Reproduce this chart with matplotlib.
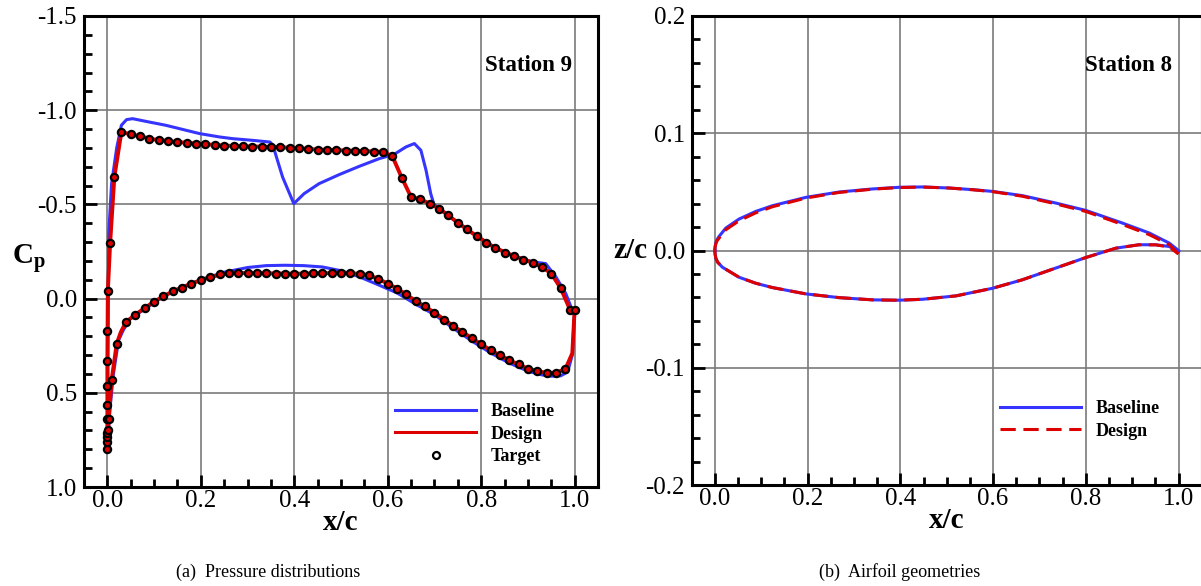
import matplotlib
matplotlib.use("Agg")
import matplotlib.pyplot as plt
from matplotlib.lines import Line2D
from matplotlib.ticker import MultipleLocator, FormatStrFormatter

plt.rcParams['font.family'] = ['Liberation Serif', 'DejaVu Serif']
plt.rcParams['axes.unicode_minus'] = False
plt.rcParams['mathtext.fontset'] = 'custom'
plt.rcParams['mathtext.rm'] = 'Liberation Serif'
plt.rcParams['mathtext.bf'] = 'Liberation Serif:bold'

BLUE = '#3535ff'
RED = '#dd0000'

# ---- station 9 pressure distributions ----
base_up_x = [0.000, 0.002, 0.003, 0.009, 0.020, 0.030, 0.041, 0.054, 0.090, 0.125, 0.197, 0.240,
             0.268, 0.311, 0.348, 0.354, 0.375, 0.399, 0.421, 0.453, 0.496, 0.539, 0.582, 0.614,
             0.639, 0.657, 0.671, 0.682, 0.692, 0.699, 0.710, 0.750, 0.790, 0.830, 0.870, 0.910,
             0.938, 0.960, 0.981, 0.995, 1.000]
base_up_cp = [0.78, 0.00, -0.35, -0.61, -0.80, -0.92, -0.950, -0.955, -0.937, -0.920, -0.876, -0.858,
              -0.849, -0.840, -0.831, -0.815, -0.645, -0.504, -0.557, -0.610, -0.658, -0.702, -0.743, -0.766,
              -0.805, -0.823, -0.787, -0.681, -0.557, -0.500, -0.478, -0.403, -0.332, -0.269, -0.226, -0.195,
              -0.186, -0.115, -0.027, 0.062, 0.060]
base_lo_x = [0.000, 0.005, 0.013, 0.024, 0.034, 0.049, 0.080, 0.120, 0.160, 0.200, 0.250, 0.300,
             0.340, 0.380, 0.420, 0.460, 0.500, 0.540, 0.580, 0.620, 0.660, 0.700, 0.740, 0.780,
             0.820, 0.860, 0.900, 0.930, 0.950, 0.970, 0.985, 0.995, 1.000]
base_lo_cp = [0.78, 0.60, 0.40, 0.221, 0.168, 0.106, 0.055, -0.012, -0.060, -0.100, -0.140, -0.165,
              -0.175, -0.177, -0.175, -0.168, -0.148, -0.115, -0.073, -0.030, 0.030, 0.085, 0.157, 0.225,
              0.288, 0.342, 0.385, 0.405, 0.412, 0.410, 0.390, 0.300, 0.062]

des_up_x = [0.000, 0.000, 0.001, 0.006, 0.015, 0.030, 0.050, 0.100, 0.150, 0.200, 0.250, 0.300,
            0.350, 0.400, 0.450, 0.500, 0.550, 0.590, 0.610, 0.630, 0.650, 0.670, 0.690, 0.710,
            0.750, 0.790, 0.830, 0.870, 0.910, 0.930, 0.950, 0.970, 0.990, 1.000]
des_up_cp = [0.80, 0.333, -0.039, -0.297, -0.646, -0.884, -0.872, -0.845, -0.831, -0.821, -0.812, -0.808,
             -0.805, -0.800, -0.791, -0.787, -0.783, -0.779, -0.755, -0.642, -0.539, -0.527, -0.504, -0.478,
             -0.403, -0.332, -0.269, -0.226, -0.191, -0.168, -0.133, -0.056, 0.058, 0.058]
des_lo_x = [0.000, 0.003, 0.009, 0.020, 0.029, 0.040, 0.060, 0.080, 0.100, 0.140, 0.180, 0.220,
            0.260, 0.300, 0.400, 0.500, 0.540, 0.560, 0.580, 0.600, 0.620, 0.660, 0.700, 0.740,
            0.780, 0.820, 0.860, 0.900, 0.940, 0.960, 0.980, 0.995, 1.000]
des_lo_cp = [0.80, 0.64, 0.434, 0.239, 0.177, 0.124, 0.085, 0.050, 0.016, -0.039, -0.080, -0.115,
             -0.135, -0.136, -0.132, -0.136, -0.132, -0.124, -0.104, -0.080, -0.053, 0.012, 0.074, 0.145,
             0.210, 0.274, 0.327, 0.372, 0.395, 0.393, 0.375, 0.290, 0.058]

tgt_up_x = [0.000, 0.000, 0.000, 0.000, 0.001, -0.001, -0.001, 0.000, 0.000, 0.000, 0.001, 0.006, 0.015,
            0.03, 0.05, 0.07, 0.09, 0.11, 0.13, 0.15, 0.17, 0.19, 0.21, 0.23, 0.25, 0.27, 0.29,
            0.31, 0.33, 0.35, 0.37, 0.39, 0.41, 0.43, 0.45, 0.47, 0.49, 0.51, 0.53, 0.55, 0.57,
            0.59, 0.61, 0.63, 0.65, 0.67, 0.69, 0.71, 0.73, 0.75, 0.77, 0.79, 0.81, 0.83, 0.85,
            0.87, 0.89, 0.91, 0.93, 0.95, 0.97, 0.99, 1.00]
tgt_up_cp = [0.800, 0.760, 0.735, 0.715, 0.700, 0.637, 0.563, 0.464, 0.333, 0.174, -0.039, -0.297, -0.646,
             -0.884, -0.872, -0.861, -0.849, -0.840, -0.836, -0.831, -0.826, -0.823, -0.819, -0.815, -0.812,
             -0.810, -0.808, -0.807, -0.805, -0.805, -0.804, -0.800, -0.797, -0.793, -0.791, -0.790, -0.787,
             -0.786, -0.784, -0.783, -0.780, -0.779, -0.755, -0.642, -0.539, -0.527, -0.504, -0.478, -0.442,
             -0.403, -0.368, -0.332, -0.297, -0.269, -0.244, -0.226, -0.207, -0.191, -0.168, -0.133, -0.056,
             0.058, 0.058]
tgt_lo_x = [0.003, 0.009, 0.02, 0.04, 0.06, 0.08, 0.10, 0.12, 0.14, 0.16, 0.18, 0.20, 0.22, 0.24,
            0.26, 0.28, 0.30, 0.32, 0.34, 0.36, 0.38, 0.40, 0.42, 0.44, 0.46, 0.48, 0.50, 0.52,
            0.54, 0.56, 0.58, 0.60, 0.62, 0.64, 0.66, 0.68, 0.70, 0.72, 0.74, 0.76, 0.78, 0.80,
            0.82, 0.84, 0.86, 0.88, 0.90, 0.92, 0.94, 0.96, 0.98]
tgt_lo_cp = [0.640, 0.434, 0.239, 0.124, 0.085, 0.050, 0.016, -0.013, -0.039, -0.058, -0.080, -0.097,
             -0.115, -0.128, -0.135, -0.137, -0.136, -0.135, -0.134, -0.133, -0.133, -0.132, -0.133,
             -0.134, -0.135, -0.136, -0.136, -0.135, -0.132, -0.124, -0.104, -0.080, -0.053, -0.024,
             0.012, 0.041, 0.074, 0.111, 0.145, 0.175, 0.210, 0.243, 0.274, 0.301, 0.327, 0.349,
             0.372, 0.386, 0.395, 0.393, 0.375]

# ---- station 8 airfoil sections ----
geo_x = [0.000, 0.0005, 0.002, 0.005, 0.009, 0.0235, 0.052, 0.088, 0.124, 0.196, 0.268, 0.340, 0.397,
         0.448, 0.505, 0.556, 0.599, 0.663, 0.735, 0.800, 0.879, 0.937, 0.980, 1.000]
base_zu = [0.0, 0.0032, 0.0063, 0.0095, 0.0120, 0.0191, 0.0268, 0.0333, 0.0382, 0.0453, 0.0499, 0.0525,
           0.0539, 0.0542, 0.0533, 0.0519, 0.0504, 0.0468, 0.0405, 0.0342, 0.0234, 0.0149, 0.0063, 0.0]
des_zu = [0.0, 0.0030, 0.0058, 0.0085, 0.0105, 0.0177, 0.0253, 0.0321, 0.0373, 0.0447, 0.0495, 0.0523,
          0.0537, 0.0541, 0.0533, 0.0518, 0.0502, 0.0463, 0.0398, 0.0333, 0.0222, 0.0135, 0.0050, -0.003]
geo_lo_x = [0.000, 0.0005, 0.002, 0.006, 0.016, 0.052, 0.088, 0.124, 0.196, 0.268, 0.340, 0.397, 0.448,
            0.520, 0.599, 0.663, 0.735, 0.800, 0.865, 0.915, 0.951, 0.980, 1.000]
base_zl = [0.0, -0.0032, -0.0065, -0.0100, -0.0142, -0.0228, -0.0279, -0.0316, -0.0370, -0.0402, -0.0421,
           -0.0424, -0.0416, -0.0387, -0.0322, -0.0250, -0.0150, -0.0060, 0.0020, 0.0049, 0.0049, 0.0034,
           -0.001]
des_zl = [0.0, -0.0032, -0.0065, -0.0100, -0.0142, -0.0228, -0.0279, -0.0316, -0.0370, -0.0402, -0.0421,
          -0.0424, -0.0416, -0.0387, -0.0322, -0.0250, -0.0150, -0.0060, 0.0020, 0.0049, 0.0048, 0.0030,
          -0.003]


def style_axes(ax, xminor, yminor):
    ax.set_xlim(-0.05, 1.05)
    ax.xaxis.set_major_locator(MultipleLocator(0.2))
    ax.xaxis.set_minor_locator(MultipleLocator(xminor))
    ax.yaxis.set_minor_locator(MultipleLocator(yminor))
    ax.xaxis.set_major_formatter(FormatStrFormatter('%.1f'))
    ax.yaxis.set_major_formatter(FormatStrFormatter('%.1f'))
    ax.tick_params(which='both', direction='in', top=False, right=False, labelsize=18)
    ax.tick_params(which='major', length=9, width=2.0)
    ax.tick_params(which='minor', length=5.5, width=2.0)
    ax.tick_params(axis='y', pad=5)
    ax.tick_params(axis='x', pad=2)
    ax.grid(True, which='major', color='#7a7a7a', lw=1.2)
    ax.set_axisbelow(True)
    for sp in ax.spines.values():
        sp.set_linewidth(2.2)
    ax.set_xlabel('x/c', fontsize=21, fontweight='bold', labelpad=-2)


fig = plt.figure(figsize=(12.01, 5.86), dpi=100)
ax1 = fig.add_axes([84 / 1201, 99 / 586, 514 / 1201, 471 / 586])
ax2 = fig.add_axes([691.7 / 1201, 101 / 586, 510 / 1201, 469 / 586])

# pressure distributions
ax1.plot(base_up_x, base_up_cp, color=BLUE, lw=2.2)
ax1.plot(base_lo_x, base_lo_cp, color=BLUE, lw=2.2)
ax1.plot(des_up_x, des_up_cp, color=RED, lw=2.8)
ax1.plot(des_lo_x, des_lo_cp, color=RED, lw=2.8)
ax1.plot(tgt_up_x + tgt_lo_x, tgt_up_cp + tgt_lo_cp, ls='none', marker='o', ms=5.2,
         mfc=RED, mec='black', mew=1.6)
ax1.set_ylim(1.0, -1.5)
ax1.yaxis.set_major_locator(MultipleLocator(0.5))
style_axes(ax1, 0.05, 0.1)
ax1.set_ylabel(r'$\mathbf{C_p}$', fontsize=21, rotation=0, va='center', ha='center')
ax1.yaxis.set_label_coords(-0.107, 0.485)
ax1.text(0.949, 0.894, 'Station 9', transform=ax1.transAxes, ha='right', va='center',
         fontsize=16.5, fontweight='bold')
cp_handles = [Line2D([], [], color=BLUE, lw=2.2),
              Line2D([], [], color=RED, lw=2.2),
              Line2D([], [], ls='none', marker='o', ms=5, mfc='white', mec='black', mew=1.6)]
ax1.legend(cp_handles, ['Baseline', 'Design', 'Target'], loc='upper left',
           bbox_to_anchor=(0.605, 0.178), frameon=False,
           prop={'size': 13, 'weight': 'bold'}, handlelength=4.5, handletextpad=0.8,
           labelspacing=0.3, borderpad=0, borderaxespad=0, numpoints=1)

# airfoil sections
ax2.plot(geo_x, base_zu, color=BLUE, lw=2.2, label='Baseline')
ax2.plot(geo_lo_x, base_zl, color=BLUE, lw=2.2)
ax2.plot(geo_x, des_zu, color=RED, lw=2.2, ls=(0, (5, 2.5)), label='Design')
ax2.plot(geo_lo_x, des_zl, color=RED, lw=2.2, ls=(0, (5, 2.5)))
ax2.set_ylim(-0.2, 0.2)
ax2.yaxis.set_major_locator(MultipleLocator(0.1))
style_axes(ax2, 0.05, 0.02)
ax2.set_ylabel('z/c', fontsize=21, fontweight='bold', rotation=0, va='center', ha='center')
ax2.yaxis.set_label_coords(-0.121, 0.5)
ax2.text(0.942, 0.894, 'Station 8', transform=ax2.transAxes, ha='right', va='center',
         fontsize=16.5, fontweight='bold')
ax2.legend(loc='upper left', bbox_to_anchor=(0.6045, 0.181), frameon=False,
           prop={'size': 13, 'weight': 'bold'}, handlelength=4.5, handletextpad=0.8,
           labelspacing=0.3, borderpad=0, borderaxespad=0)

fig.text(268 / 1201, 1 - 572 / 586, '(a)  Pressure distributions', ha='center', va='center', fontsize=13)
fig.text(900 / 1201, 1 - 572 / 586, '(b)  Airfoil geometries', ha='center', va='center', fontsize=13)

fig.savefig('out.png', dpi=100)
